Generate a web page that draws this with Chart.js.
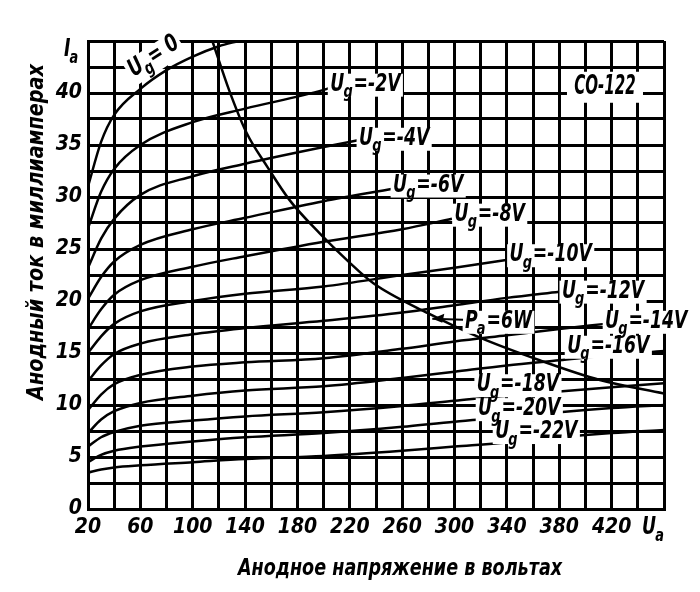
<!DOCTYPE html>
<html>
<head>
<meta charset="utf-8">
<style>
  html, body { margin: 0; padding: 0; background: #fff; }
</style>
</head>
<body>
<canvas id="chart" width="700" height="592"></canvas>
<script src="https://cdn.jsdelivr.net/npm/chart.js@4/dist/chart.umd.min.js"></script>
<script>
// anode characteristics of the CO-122
const ugNames = ['0', '-2', '-4', '-6', '-8', '-10', '-12', '-14', '-16', '-18', '-20', '-22'];

const va_0 = [20, 30, 40, 60, 80, 100, 120, 135];
const ia_0 = [31.0, 35.3, 37.9, 40.4, 42.2, 43.5, 44.5, 45.0];
const va_2 = [20, 30, 40, 60, 100, 140, 200, 207];
const ia_2 = [27.0, 30.5, 32.7, 35.0, 37.2, 38.5, 40.3, 40.6];
const va_4 = [20, 30, 40, 60, 100, 140, 200, 228];
const ia_4 = [23.2, 26.0, 27.9, 30.2, 32.0, 33.2, 34.8, 35.5];
const va_6 = [20, 30, 40, 60, 100, 140, 200, 253];
const ia_6 = [20.2, 22.3, 23.8, 25.4, 26.9, 28.0, 29.6, 30.8];
const va_8 = [20, 30, 40, 60, 100, 140, 200, 260, 298];
const ia_8 = [17.3, 19.2, 20.6, 22.0, 23.3, 24.3, 25.7, 26.9, 27.9];
const va_10 = [20, 30, 40, 60, 100, 140, 200, 260, 300, 342];
const ia_10 = [15.0, 16.6, 17.8, 19.0, 20.0, 20.7, 21.4, 22.5, 23.2, 24.0];
const va_12 = [20, 30, 40, 60, 100, 140, 200, 260, 300, 340, 380];
const ia_12 = [12.3, 13.8, 14.9, 15.9, 16.8, 17.4, 18.1, 18.9, 19.6, 20.3, 20.9];
const va_14 = [20, 30, 40, 60, 100, 140, 200, 260, 300, 340, 380, 415];
const ia_14 = [9.5, 11.0, 12.0, 12.9, 13.7, 14.1, 14.5, 15.4, 16.1, 16.7, 17.3, 17.8];
const va_16 = [20, 30, 40, 60, 100, 140, 200, 260, 300, 340, 380, 420, 460];
const ia_16 = [7.3, 8.6, 9.4, 10.2, 10.9, 11.4, 11.8, 12.6, 13.2, 13.8, 14.3, 14.8, 15.2];
const va_18 = [20, 30, 40, 60, 100, 140, 200, 260, 300, 340, 380, 420, 460];
const ia_18 = [6.0, 6.9, 7.4, 8.0, 8.5, 8.9, 9.3, 9.9, 10.4, 10.9, 11.3, 11.7, 12.1];
const va_20 = [20, 30, 40, 60, 100, 140, 200, 260, 300, 340, 380, 420, 460];
const ia_20 = [4.5, 5.2, 5.6, 6.0, 6.5, 6.9, 7.3, 7.9, 8.4, 8.8, 9.3, 9.7, 10.0];
const va_22 = [20, 30, 40, 60, 100, 140, 200, 260, 300, 340, 380, 420, 460];
const ia_22 = [3.5, 3.8, 4.0, 4.2, 4.5, 4.8, 5.1, 5.6, 6.0, 6.4, 6.9, 7.3, 7.6];

// Pa = 6W dissipation limit
const va_pa = [115, 128, 141, 157, 174, 197, 218, 238, 280, 319, 365, 411, 460];
const ia_pa = [45.0, 40.2, 36.2, 32.9, 29.7, 26.5, 23.9, 21.7, 18.8, 16.5, 14.3, 12.4, 11.1];

const xTicks = [20, 60, 100, 140, 180, 220, 260, 300, 340, 380, 420];
const yTicks = [0, 5, 10, 15, 20, 25, 30, 35, 40];

const FONT = '"DejaVu Sans Condensed", "DejaVu Sans", sans-serif';

const curves = [
  [va_0, ia_0], [va_2, ia_2], [va_4, ia_4], [va_6, ia_6], [va_8, ia_8], [va_10, ia_10],
  [va_12, ia_12], [va_14, ia_14], [va_16, ia_16], [va_18, ia_18], [va_20, ia_20], [va_22, ia_22]
];

const toPts = (vs, is) => vs.map((v, i) => ({ x: v, y: is[i] }));

const datasets = curves.map(([vs, is], k) => ({
  label: 'Ug=' + ugNames[k] + 'V',
  data: toPts(vs, is),
  borderColor: '#000',
  borderWidth: 2.5,
  pointRadius: 0,
  cubicInterpolationMode: 'monotone'
}));
datasets.push({
  label: 'Pa=6W',
  data: toPts(va_pa, ia_pa),
  borderColor: '#000',
  borderWidth: 2.5,
  pointRadius: 0,
  cubicInterpolationMode: 'monotone'
});

// label anchors: [volts, mA, letter, subscript, rest, angle]
const plateLabels = [
  [69, 43.4, 'U', 'g', '= 0', -0.58],
  [205, 40.8, 'U', 'g', '=-2V', 0],
  [227, 35.6, 'U', 'g', '=-4V', 0],
  [253, 31.1, 'U', 'g', '=-6V', 0],
  [300, 28.3, 'U', 'g', '=-8V', 0],
  [342, 24.4, 'U', 'g', '=-10V', 0],
  [382, 20.9, 'U', 'g', '=-12V', 0],
  [308, 18.0, 'P', 'a', '=6W', 0],
  [415, 18.0, 'U', 'g', '=-14V', 0],
  [386, 15.6, 'U', 'g', '=-16V', 0],
  [317, 11.9, 'U', 'g', '=-18V', 0],
  [318, 9.6, 'U', 'g', '=-20V', 0],
  [331, 7.4, 'U', 'g', '=-22V', 0]
];

function font(size) {
  return `italic bold ${size}px ${FONT}`;
}

// letter + subscript + rest, squeezed sideways like the plate lettering
function subText(ctx, px, py, main, sub, rest, mode, angle = 0, k = 0.8) {
  ctx.save();
  ctx.translate(px, py);
  ctx.rotate(angle);
  if (angle) ctx.translate(-26, 0);
  ctx.scale(k, 1);
  ctx.textBaseline = 'middle';
  ctx.textAlign = 'left';
  ctx.font = font(24);
  const w1 = ctx.measureText(main).width;
  const w3 = ctx.measureText(rest).width;
  ctx.font = font(18);
  const w2 = ctx.measureText(sub).width;
  if (mode === 'box') {
    ctx.fillStyle = '#fff';
    ctx.fillRect(-3, -11, w1 + w2 + w3 + 6, angle ? 26 : 23);
  } else {
    ctx.fillStyle = '#000';
    ctx.font = font(24);
    ctx.fillText(main, 0, 0);
    ctx.font = font(18);
    ctx.fillText(sub, w1 - 1, 8);
    ctx.font = font(24);
    ctx.fillText(rest, w1 + w2, 0);
  }
  ctx.restore();
}

function squeezed(ctx, text, px, py, size, k, angle = 0) {
  ctx.save();
  ctx.translate(px, py);
  ctx.rotate(angle);
  ctx.scale(k, 1);
  ctx.font = font(size);
  ctx.textAlign = 'center';
  ctx.textBaseline = 'middle';
  ctx.fillStyle = '#000';
  ctx.fillText(text, 0, 0);
  ctx.restore();
}

const platePlugin = {
  id: 'plate',
  afterDatasetsDraw(chart) {
    const { ctx } = chart;
    const x = chart.scales.x, y = chart.scales.y;
    ctx.save();

    ['box', 'text'].forEach(mode => {
      plateLabels.forEach(([v, i, m, s, t, a]) => {
        subText(ctx, x.getPixelForValue(v), y.getPixelForValue(i), m, s, t, mode, a);
      });
    });

    // arrow from the Pa label to the limit curve
    const px = x.getPixelForValue(308), py = y.getPixelForValue(18.0);
    const tipX = x.getPixelForValue(283), tipY = y.getPixelForValue(18.3);
    ctx.strokeStyle = '#000';
    ctx.lineWidth = 2;
    ctx.beginPath();
    ctx.moveTo(px - 2, py - 2);
    ctx.lineTo(tipX, tipY);
    ctx.stroke();
    ctx.beginPath();
    ctx.moveTo(tipX, tipY);
    ctx.lineTo(tipX + 12, tipY - 5);
    ctx.lineTo(tipX + 10, tipY + 4);
    ctx.closePath();
    ctx.fillStyle = '#000';
    ctx.fill();

    // tube type
    const tx = x.getPixelForValue(392), ty = y.getPixelForValue(40.6);
    ctx.fillStyle = '#fff';
    ctx.fillRect(tx - 8, ty - 15, 76, 31);
    squeezed(ctx, 'СО-122', tx + 30, ty, 27, 0.62);

    // axis symbols
    subText(ctx, 64, 50, 'I', 'a', '', 'text');
    subText(ctx, 642, 528, 'U', 'a', '', 'text');

    // axis titles
    squeezed(ctx, 'Анодное напряжение в вольтах', 400, 569, 23, 0.85);
    squeezed(ctx, 'Анодный ток в миллиамперах', 37, 232, 23, 0.93, -Math.PI / 2);
    ctx.restore();
  }
};

new Chart(document.getElementById('chart'), {
  type: 'line',
  data: { datasets },
  plugins: [platePlugin],
  options: {
    responsive: false,
    animation: false,
    devicePixelRatio: 1,
    layout: { padding: { top: 41, right: 36, left: 0, bottom: 0 } },
    plugins: { legend: { display: false }, tooltip: { enabled: false } },
    scales: {
      x: {
        type: 'linear',
        min: 20,
        max: 460,
        afterFit(s) { s.height = 83; },
        border: { color: '#000', width: 3 },
        grid: { color: '#000', lineWidth: 3, drawTicks: false },
        ticks: {
          stepSize: 20,
          autoSkip: false,
          maxRotation: 0,
          padding: 6,
          color: '#000',
          font: { family: FONT, size: 21, style: 'italic', weight: 'bold' },
          callback: v => xTicks.includes(v) ? String(v) : ''
        }
      },
      y: {
        min: 0,
        max: 45,
        afterFit(s) { s.width = 88; },
        border: { color: '#000', width: 3 },
        grid: { color: '#000', lineWidth: 3, drawTicks: false },
        ticks: {
          stepSize: 2.5,
          autoSkip: false,
          padding: 6,
          color: '#000',
          font: { family: FONT, size: 21, style: 'italic', weight: 'bold' },
          callback: v => yTicks.includes(v) ? String(v) : ''
        }
      }
    }
  }
});
</script>
</body>
</html>
